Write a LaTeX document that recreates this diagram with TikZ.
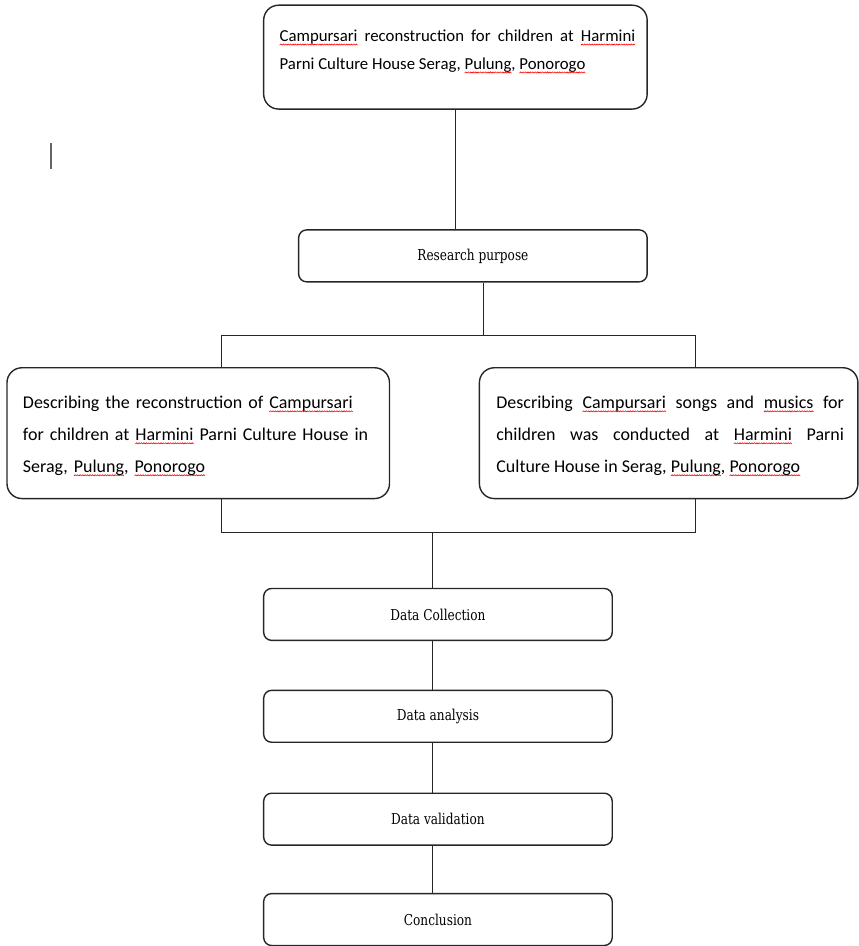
\documentclass[tikz,border=0pt]{standalone}
\usepackage{fontspec}
\setmainfont{Carlito}
\newfontfamily\boxserif[FakeStretch=0.9]{DejaVu Serif Condensed}
\newsavebox\wavebox
\newsavebox\sqword
\newcommand\sq[1]{\sbox\sqword{#1}\rlap{\raisebox{-3.6pt}[0pt][0pt]{\hbox to \wd\sqword{\xleaders\copy\wavebox\hfill}}}\usebox\sqword}
\begin{document}
\begin{tikzpicture}[x=1pt,y=-1pt,
  bigbox/.style={draw=black!85,line width=1.4pt,rounded corners=15pt,inner sep=0pt},
  smallbox/.style={draw=black!85,line width=1.4pt,rounded corners=8pt,inner sep=0pt,minimum width=349pt,minimum height=52pt,font={\boxserif\fontsize{15}{18}\selectfont}},
  bigtext/.style={inner sep=0pt,font={\fontsize{18}{32}\selectfont}},
  conn/.style={draw=black!85,line width=1.3pt}]
\global\sbox\wavebox{\pgfpicture
  \pgfpathmoveto{\pgfpoint{0pt}{0pt}}\pgfpathlineto{\pgfpoint{1.2pt}{1.2pt}}\pgfpathlineto{\pgfpoint{2.4pt}{0pt}}%
  \pgfsetstrokecolor{red}\pgfsetlinewidth{0.6pt}\pgfusepath{stroke}%
  \pgfresetboundingbox
  \pgfpathrectangle{\pgfpoint{0pt}{0pt}}{\pgfpoint{2.4pt}{1.2pt}}\pgfusepath{use as bounding box}%
  \endpgfpicture}%
\useasboundingbox (0,0) rectangle (860,946);
% top box
\node[bigbox,minimum width=384pt,minimum height=104pt] (top) at (456,56) {};
\node[bigtext,text width=356pt,align=justify,font={\fontsize{16.8}{28}\selectfont}] (toptext) at (458,50)
 {\sq{Campursari} reconstruction for children at \sq{Harmini}\linebreak Parni Culture House Serag, \sq{Pulung}, \sq{Ponorogo}};
% research purpose
\node[smallbox] (rp) at (473.5,255) {Research purpose};
% left/right
\node[bigbox,minimum width=383pt,minimum height=131pt] (left) at (198.5,432.5) {};
\node[bigtext,text width=352pt,align=left] (lefttext) at (199,435)
 {Describing the reconstruction of \sq{Campursari}\\ for children at \sq{Harmini} Parni Culture House in\\ Serag, \sq{Pulung}, \sq{Ponorogo}};
\node[bigbox,minimum width=379pt,minimum height=131pt] (right) at (669.5,432.5) {};
\node[bigtext,text width=348pt,align=justify] (righttext) at (671,435)
 {Describing \sq{Campursari} songs and \sq{musics} for\linebreak children was conducted at \sq{Harmini} Parni\linebreak Culture House in Serag, \sq{Pulung}, \sq{Ponorogo}};
% lower chain
\node[smallbox] (dc) at (438.5,614) {Data Collection};
\node[smallbox] (da) at (438.5,716) {Data analysis};
\node[smallbox] (dv) at (438.5,819) {Data validation};
\node[smallbox] (cc) at (438.5,919.5) {Conclusion};
% junctions
\coordinate (j1) at (484,335);
\coordinate (jl) at (222,335);
\coordinate (jr) at (696.6,335);
\coordinate (bl) at (222,532);
\coordinate (br) at (696.6,532);
\coordinate (j3) at (433,532);
% connectors
\draw[conn] (top.south) -- (top.south |- rp.north);
\draw[conn] (rp.south -| j1) -- (j1);
\draw[conn] (left.north -| jl) -- (jl) -- (jr) -- (right.north -| jr);
\draw[conn] (left.south -| bl) -- (bl) -- (br) -- (right.south -| br);
\draw[conn] (j3) -- (j3 |- dc.north);
\draw[conn] (dc.south -| j3) -- (da.north -| j3);
\draw[conn] (da.south -| j3) -- (dv.north -| j3);
\draw[conn] (dv.south -| j3) -- (cc.north -| j3);
% text cursor
\draw[black!60,line width=1.2pt] (51,142) -- (51,168);
\end{tikzpicture}
\end{document}
